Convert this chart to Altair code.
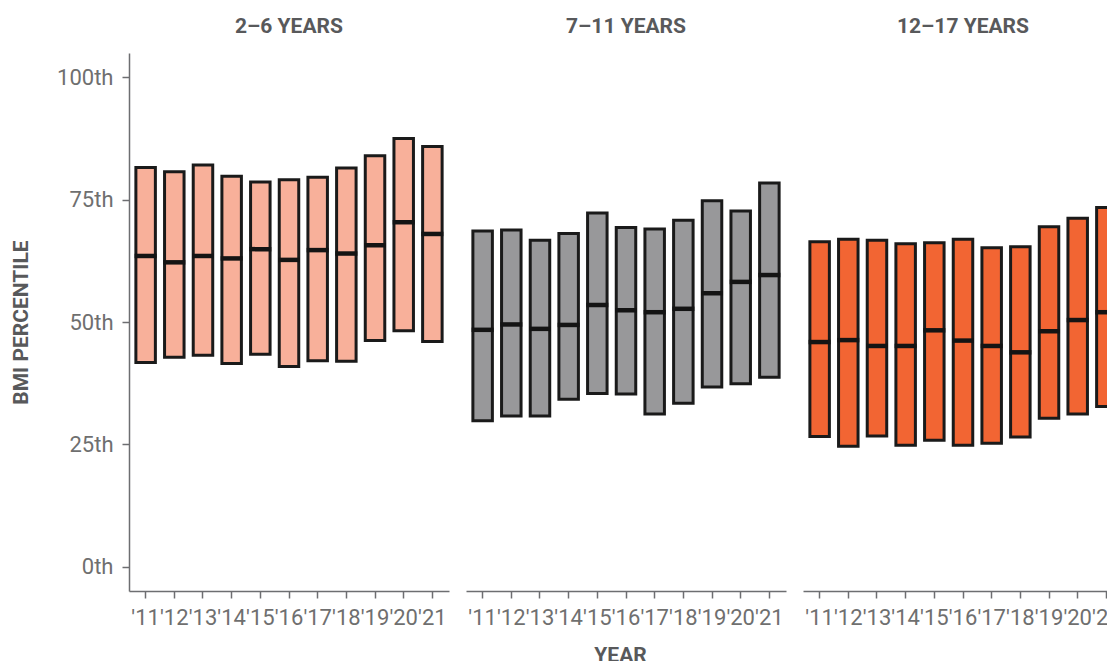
import altair as alt
import pandas as pd

FONT = "Roboto"

years = ["'11", "'12", "'13", "'14", "'15", "'16", "'17", "'18", "'19", "'20", "'21"]
groups = ["2–6 YEARS", "7–11 YEARS", "12–17 YEARS"]
colors = ["#f8b09a", "#98989a", "#f26533"]

high_2_6 = [81.6, 80.7, 82.1, 79.8, 78.6, 79.1, 79.6, 81.5, 84.0, 87.5, 85.9]
median_2_6 = [63.5, 62.2, 63.5, 63.0, 64.9, 62.7, 64.7, 64.0, 65.7, 70.4, 68.0]
low_2_6 = [41.7, 42.8, 43.2, 41.5, 43.4, 40.9, 42.1, 42.0, 46.2, 48.2, 46.0]

high_7_11 = [68.6, 68.8, 66.7, 68.1, 72.3, 69.3, 69.0, 70.8, 74.8, 72.7, 78.4]
median_7_11 = [48.4, 49.5, 48.6, 49.4, 53.5, 52.4, 52.0, 52.7, 55.9, 58.2, 59.6]
low_7_11 = [29.8, 30.8, 30.8, 34.2, 35.4, 35.3, 31.2, 33.4, 36.7, 37.4, 38.7]

high_12_17 = [66.4, 66.9, 66.7, 66.0, 66.2, 66.9, 65.2, 65.4, 69.5, 71.2, 73.4]
median_12_17 = [45.9, 46.3, 45.1, 45.1, 48.3, 46.2, 45.1, 43.8, 48.1, 50.4, 52.0]
low_12_17 = [26.6, 24.6, 26.7, 24.8, 25.8, 24.8, 25.2, 26.5, 30.3, 31.2, 32.7]

highs = [high_2_6, high_7_11, high_12_17]
medians = [median_2_6, median_7_11, median_12_17]
lows = [low_2_6, low_7_11, low_12_17]

y_ticks = [0, 25, 50, 75, 100]

AX_COL = "#6d6e71"
TITLE_COL = "#58595b"


def panel(i):
    df = pd.DataFrame({"year": years, "low": lows[i], "high": highs[i], "median": medians[i]})
    base = alt.Chart(df)
    if i == 1:
        x_axis = alt.Axis(title="YEAR", labelAngle=0, labelOverlap=False,
                          labelPadding=9, titlePadding=16, titleX=154)
    else:
        x_axis = alt.Axis(title=None, labelAngle=0, labelOverlap=False, labelPadding=9)
    if i == 0:
        y_axis = alt.Axis(
            title="BMI PERCENTILE",
            values=y_ticks,
            labelExpr="datum.value + 'th'",
            labelPadding=9,
            titlePadding=25,
        )
    else:
        y_axis = None
    xs = alt.X("year:O", sort=years,
               scale=alt.Scale(paddingInner=0.32, paddingOuter=0.24),
               axis=x_axis)
    yscale = alt.Scale(domain=[-5, 105], nice=False, zero=False)
    bars = base.mark_bar(fill=colors[i], stroke="#1a1a1a", strokeWidth=3, opacity=1).encode(
        x=xs,
        y=alt.Y("low:Q", scale=yscale, axis=y_axis),
        y2="high:Q",
    )
    ticks = base.mark_tick(color="#141414", thickness=4.5, size=22, opacity=1).encode(
        x=xs,
        y=alt.Y("median:Q", scale=yscale, axis=y_axis),
    )
    return alt.layer(bars, ticks).properties(
        width=320,
        height=538,
        title=alt.TitleParams(
            groups[i], font=FONT, fontSize=21, fontWeight="bold",
            color=TITLE_COL, anchor="middle", offset=16,
        ),
    )


chart = alt.hconcat(panel(0), panel(1), panel(2), spacing=17).properties(
    padding={"left": 2, "top": 8, "right": -16, "bottom": -4}
).configure_view(stroke=None).configure_axis(
    labelFont=FONT, labelFontSize=22, labelColor="#6f6f6f",
    domainColor=AX_COL, domainWidth=1.5,
    tickColor=AX_COL, tickWidth=1.5, tickSize=7,
    grid=False,
    titleFont=FONT, titleFontSize=21, titleFontWeight="bold", titleColor=TITLE_COL,
)

chart.save("out.html", embed_options={"renderer": "svg", "actions": False})
